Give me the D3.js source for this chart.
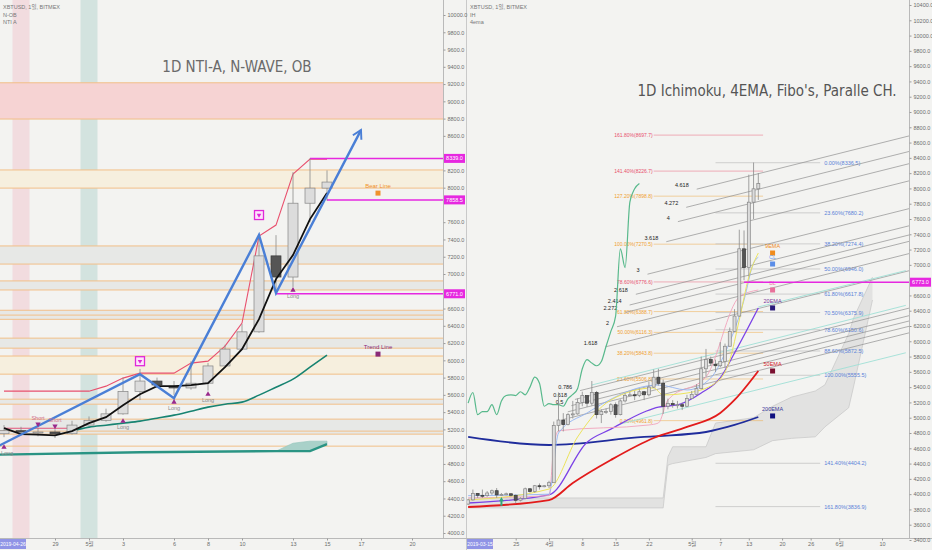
<!DOCTYPE html>
<html>
<head>
<meta charset="utf-8">
<script src="https://cdn.jsdelivr.net/npm/d3@7"></script>
<style>
  body { margin: 0; background: #f3f3f1; }
  svg { display: block; }
  text { font-family: "Liberation Sans", "DejaVu Sans", "Noto Sans CJK KR", sans-serif; }
  .title { font-family: "Liberation Sans Narrow", "DejaVu Sans Condensed", "Liberation Sans", sans-serif; }
</style>
</head>
<body>
<div id="chart"></div>
<script>
// daily XBTUSD candles
const candleDates = [
  '2019-03-15','2019-03-16','2019-03-17','2019-03-18','2019-03-19','2019-03-20','2019-03-21','2019-03-22','2019-03-23','2019-03-24',
  '2019-03-25','2019-03-26','2019-03-27','2019-03-28','2019-03-29','2019-03-30','2019-03-31',
  '2019-04-01','2019-04-02','2019-04-03','2019-04-04','2019-04-05','2019-04-06','2019-04-07','2019-04-08','2019-04-09','2019-04-10',
  '2019-04-11','2019-04-12','2019-04-13','2019-04-14','2019-04-15','2019-04-16','2019-04-17','2019-04-18','2019-04-19','2019-04-20',
  '2019-04-21','2019-04-22','2019-04-23','2019-04-24','2019-04-25','2019-04-26','2019-04-27','2019-04-28','2019-04-29','2019-04-30',
  '2019-05-01','2019-05-02','2019-05-03','2019-05-04','2019-05-05','2019-05-06','2019-05-07','2019-05-08','2019-05-09','2019-05-10',
  '2019-05-11','2019-05-12','2019-05-13','2019-05-14','2019-05-15'
];
const candleOpen = [
  3870,3925,4010,3985,3980,4015,4045,3990,3995,4005,3985,3920,3945,4070,4035,4110,4105,
  4110,4150,4900,4970,4910,5040,5050,5200,5290,5190,5330,5040,5080,5080,5170,5040,5220,5290,5300,5290,
  5340,5300,5400,5530,5450,5150,5185,5170,5170,5150,
  5250,5305,5380,5640,5760,5700,5680,5735,5935,6130,6330,7210,6965,7820,7995
];
const candleHigh = [
  3935,4060,4015,4060,4040,4060,4080,4015,4020,4010,3995,3960,4085,4080,4120,4140,4120,
  4175,4950,5330,5060,5060,5220,5250,5340,5290,5480,5350,5110,5120,5190,5200,5240,5320,5340,5350,5370,
  5350,5470,5630,5640,5500,5250,5230,5220,5200,5300,
  5350,5440,5800,5900,5800,5760,5990,5970,6180,6420,7460,7450,8180,8339,8200
];
const candleLow = [
  3860,3915,3950,3950,3965,3990,3950,3980,3985,3970,3880,3905,3935,4020,4020,4060,4090,
  4080,4150,4820,4820,4900,4990,5040,5150,5140,5160,4990,4930,5050,5040,5000,5030,5200,5280,5230,5270,
  5230,5280,5390,5420,5050,5110,5130,5120,5100,5140,
  5250,5290,5370,5540,5680,5600,5660,5650,5930,6120,6320,6800,6850,7600,7850
];
const candleClose = [
  3925,4010,3985,3980,4015,4045,3990,3995,4005,3985,3920,3945,4070,4035,4110,4105,4110,
  4150,4900,4970,4910,5040,5050,5200,5290,5190,5330,5040,5080,5080,5170,5040,5220,5290,5300,5290,5340,
  5300,5400,5530,5450,5150,5185,5170,5170,5150,5250,
  5305,5380,5640,5760,5715,5680,5735,5935,6130,6330,7210,6965,7820,7995,8065
];

// ---- left panel: NTI-A, N-wave, order blocks ----
const leftDates = candleDates.slice(42); // 2019-04-26 .. 2019-05-15
const ntiBlack = [5214,5145,5140,5130,5180,5272,5342,5481,5608,5701,5701,5713,5736,5921,6130,6477,6941,7219,7636,7937];
const ntiRed   = [5643,5643,5643,5643,5643,5643,5701,5794,5852,5852,5852,5968,5991,6165,6431,7439,7567,8158,8331,8331];
const trendDates  = leftDates.slice(4);
const trendValues = [5180,5226,5249,5272,5296,5330,5365,5411,5458,5492,5516,5597,5689,5782,5921,6060];
const baseDates  = ['2019-04-25','2019-05-04','2019-05-12','2019-05-14','2019-05-15'];
const baseValues = [4905,4936,4948,4948,5029];
const fillDates  = ['2019-05-12','2019-05-13','2019-05-14','2019-05-15'];
const fillUpper  = [4948,5040,5064,5064];
const fillLower  = [4948,4948,4948,5029];
const shortDates = ['2019-04-26','2019-04-30'];
const shortValues = [5214,5214];
const nwaveDates  = ['2019-04-25','2019-05-04','2019-05-06','2019-05-11','2019-05-12','2019-05-17'];
const nwaveValues = [4940,5840,5562,7451,6779,8667];
const zoneTops    = [9215,8205,7325,6920,6580,6257,6050,5550,5319];
const zoneBottoms = [8795,7995,7115,6815,6475,6141,5840,5492,5145];
const zoneKinds   = ['red','beige','gray','gray','gray','gray','beige','gray','gray'];
const zoneLines   = [6524,5180,5006];
const bandDates   = ['2019-04-27','2019-05-01'];
const bandKinds   = ['pink','teal'];
const magentaLeft      = [8339.0,7858.5,6771.0];
const magentaLeftStart = ['2019-05-14','2019-05-15','2019-05-12'];
const signalDates  = ['2019-04-26','2019-04-28','2019-04-29','2019-05-03','2019-05-06','2019-05-08','2019-05-13'];
const signalTypes  = ['Long','Short','Short','Long','Long','Long','Long'];
const signalPrices = [4994,5261,5238,5295,5516,5608,6813];
const boxDates  = ['2019-05-04','2019-05-11'];
const boxPrices = [5990,7683];
const noteNames  = ['Bear Line','Trend Line'];
const notePrices = [7937,6072];
const leftTickDates  = ['2019-04-29','2019-05-01','2019-05-03','2019-05-06','2019-05-08','2019-05-10','2019-05-13','2019-05-15','2019-05-17','2019-05-20'];
const leftTickLabels = ['29','5월','3','6','8','10','13','15','17','20'];

// ---- right panel: Ichimoku, EMAs, Fibonacci, channel ----
const cloudDates = ['2019-03-15','2019-04-25','2019-04-26','2019-04-27','2019-05-04','2019-05-06','2019-05-14','2019-05-18','2019-05-22','2019-05-27','2019-05-29','2019-06-03','2019-06-04','2019-06-08'];
const spanA = [3950,3950,4490,4620,4620,4930,5000,5150,5270,5350,5430,6100,6300,6840];
const spanB = [3820,3820,4380,4400,4480,4530,4580,4700,4730,4750,4880,5130,5400,6540];
const ema9Dates  = ['2019-03-15','2019-04-01','2019-04-07','2019-04-14','2019-04-23','2019-04-25','2019-04-30','2019-05-06','2019-05-09','2019-05-11','2019-05-13','2019-05-15'];
const ema9Values = [3923,4067,4747,5232,5389,5298,5323,5454,5755,6279,6841,7155];
const ema20Dates  = ['2019-03-15','2019-04-01','2019-04-09','2019-04-14','2019-04-21','2019-04-24','2019-04-28','2019-05-03','2019-05-07','2019-05-10','2019-05-15'];
const ema20Values = [3884,3990,4680,4850,5075,5140,5167,5323,5520,5847,6436];
const ema50Dates  = ['2019-03-15','2019-04-01','2019-04-06','2019-04-14','2019-04-23','2019-04-30','2019-05-07','2019-05-10','2019-05-15'];
const ema50Values = [3832,3923,4146,4447,4735,4879,5062,5232,5611];
const ema200Dates  = ['2019-03-15','2019-04-01','2019-04-21','2019-04-24','2019-05-04','2019-05-10','2019-05-15'];
const ema200Values = [4748,4643,4748,4760,4813,4905,5009];
const tenkanDates  = ['2019-03-15','2019-04-01','2019-04-03','2019-04-09','2019-04-24','2019-04-30','2019-05-05','2019-05-08','2019-05-12','2019-05-14','2019-05-15'];
const tenkanValues = [3980,4000,4800,5062,5428,5363,5520,5847,6540,7024,7100];
const kijunDates  = ['2019-03-15','2019-04-01','2019-04-02','2019-04-03','2019-04-22','2019-04-24','2019-04-26','2019-05-04','2019-05-11','2019-05-15'];
const kijunValues = [3950,3980,4617,4830,4905,4931,5232,5533,6579,6671];
const chikouShift = 25;
const fibALevels = [161.8,141.4,127.2,100,78.6,61.8,50,38.2,23.6,0];
const fibAPrices = [8697.7,8226.7,7898.8,7270.5,6776.6,6388.7,6116.3,5843.8,5506.8,4961.8];
const fibBLevels = [0,23.6,38.2,50,61.8,70.5,78.6,88.6,100,141.4,161.8];
const fibBPrices = [8336.5,7680.2,7274.4,6946.0,6617.8,6375.9,6150.6,5872.5,5555.5,4404.2,3836.9];
const channelLevels = [0.236,0.382,0.5,0.618,0.786,1.618,2,2.272,2.414,2.618,3,3.618,4,4.272,4.618];
const cyanStartDates  = ['2019-04-10','2019-04-16','2019-05-15'];
const cyanStartPrices = [5428,4918,6449];
const cyanEndDates    = ['2019-06-15','2019-06-15','2019-06-15'];
const cyanEndPrices   = [6470,5850,6925];
const legendNames  = ['9EMA','CL','BL','20EMA','50EMA','200EMA'];
const legendPrices = [7155,7011,6671,6436,5611,5023];
const rightTickDates  = ['2019-03-25','2019-04-01','2019-04-08','2019-04-15','2019-04-22','2019-05-01','2019-05-07','2019-05-13','2019-05-20','2019-05-26','2019-06-01','2019-06-10'];
const rightTickLabels = ['25','4월','8','15','22','5월','7','13','20','26','6월','10'];

(() => {
  const W = 932, H = 550, bottom = 538;
  const parse = d3.timeParse('%Y-%m-%d');
  const addDays = (d, n) => new Date(d.getTime() + n * 864e5);

  const svg = d3.select('#chart').append('svg').attr('width', W).attr('height', H);
  svg.append('rect').attr('width', W).attr('height', H).attr('fill', '#f3f3f1');

  const defs = svg.append('defs');
  defs.append('clipPath').attr('id', 'clipL').append('rect').attr('x', 0).attr('y', 0).attr('width', 443).attr('height', bottom);
  defs.append('clipPath').attr('id', 'clipR').append('rect').attr('x', 467).attr('y', 0).attr('width', 442).attr('height', bottom);
  defs.append('marker').attr('id', 'arrow').attr('viewBox', '0 0 10 10').attr('refX', 8).attr('refY', 5)
    .attr('markerWidth', 5).attr('markerHeight', 5).attr('orient', 'auto')
    .append('path').attr('d', 'M1,1 L8,5 L1,9').attr('fill', 'none').attr('stroke', '#4a7fd6').attr('stroke-width', 1.6);

  // scales
  const xL = d3.scaleTime().domain([parse('2019-04-26'), parse('2019-05-20')]).range([4, 412]);
  const yL = d3.scaleLinear().domain([4000, 10000]).range([533, 15]);
  const xR = d3.scaleTime().domain([parse('2019-04-01'), parse('2019-06-10')]).range([549, 882]);
  const yR = d3.scaleLinear().domain([3400, 10400]).range([540, 5]);

  const candles = candleDates.map((d, i) => ({
    date: parse(d), o: candleOpen[i], h: candleHigh[i], l: candleLow[i], c: candleClose[i]
  }));

  const lineOf = (x, y, curve) => d3.line().x(d => x(d[0])).y(d => y(d[1])).curve(curve || d3.curveLinear);
  const pairs = (dates, vals) => dates.map((d, i) => [parse(d), vals[i]]);

  const drawCandles = (g, data, x, y, w) => {
    const c = g.selectAll(null).data(data).enter().append('g');
    c.append('line')
      .attr('x1', d => x(d.date)).attr('x2', d => x(d.date))
      .attr('y1', d => y(d.h)).attr('y2', d => y(d.l))
      .attr('stroke', '#8a8a8a').attr('stroke-width', 0.8);
    c.append('rect')
      .attr('x', d => x(d.date) - w / 2)
      .attr('y', d => y(Math.max(d.o, d.c)))
      .attr('width', w)
      .attr('height', d => Math.max(1, Math.abs(y(d.o) - y(d.c))))
      .attr('fill', d => d.c >= d.o ? '#dcdcdc' : '#555')
      .attr('stroke', d => d.c >= d.o ? '#858585' : '#3a3a3a')
      .attr('stroke-width', 0.7);
  };

  // ================= LEFT PANEL =================
  const gL = svg.append('g').attr('clip-path', 'url(#clipL)');

  const bandColor = { pink: 'rgba(240,160,175,0.28)', teal: 'rgba(130,185,175,0.28)' };
  gL.selectAll('.band').data(bandDates).enter().append('rect')
    .attr('x', d => xL(parse(d)) - 8.5).attr('y', 0).attr('width', 17).attr('height', bottom)
    .attr('fill', (d, i) => bandColor[bandKinds[i]]);

  const zoneColor = { red: '#f6d3d3', beige: '#f6efde', gray: '#e7e8e6' };
  zoneTops.forEach((t, i) => {
    const b = zoneBottoms[i];
    gL.append('rect').attr('x', 0).attr('width', 443)
      .attr('y', yL(t)).attr('height', yL(b) - yL(t)).attr('fill', zoneColor[zoneKinds[i]]);
    [t, b].forEach(v => gL.append('line').attr('x1', 0).attr('x2', 443)
      .attr('y1', yL(v)).attr('y2', yL(v)).attr('stroke', '#f2bf88').attr('stroke-width', 1));
  });
  zoneLines.forEach(v => gL.append('line').attr('x1', 0).attr('x2', 443)
    .attr('y1', yL(v)).attr('y2', yL(v)).attr('stroke', '#f2bf88').attr('stroke-width', 1));

  // teal cloud piece
  const fillData = fillDates.map((d, i) => ({ date: parse(d), u: fillUpper[i], l: fillLower[i] }));
  gL.append('path').datum(fillData)
    .attr('d', d3.area().x(d => xL(d.date)).y0(d => yL(d.l)).y1(d => yL(d.u)))
    .attr('fill', '#a9d1c9').attr('stroke', '#8fc2b8').attr('stroke-width', 0.6);

  gL.append('path').datum(pairs(baseDates, baseValues))
    .attr('d', lineOf(xL, yL)).attr('fill', 'none').attr('stroke', '#2a9484').attr('stroke-width', 2.4);
  gL.append('path').datum(pairs(trendDates, trendValues))
    .attr('d', lineOf(xL, yL, d3.curveMonotoneX)).attr('fill', 'none').attr('stroke', '#178371').attr('stroke-width', 1.6);
  gL.append('path').datum(pairs(shortDates, shortValues))
    .attr('d', lineOf(xL, yL)).attr('fill', 'none').attr('stroke', '#e2557a').attr('stroke-width', 1.1);
  gL.append('path').datum(pairs(leftDates, ntiRed))
    .attr('d', lineOf(xL, yL)).attr('fill', 'none').attr('stroke', '#e8506e').attr('stroke-width', 1.1);

  magentaLeft.forEach((v, i) => {
    gL.append('line').attr('x1', xL(parse(magentaLeftStart[i]))).attr('x2', 443)
      .attr('y1', yL(v)).attr('y2', yL(v)).attr('stroke', '#e628e0').attr('stroke-width', 1.5);
  });

  drawCandles(gL, candles.slice(42), xL, yL, 10);

  gL.append('path').datum(pairs(leftDates, ntiBlack))
    .attr('d', lineOf(xL, yL)).attr('fill', 'none').attr('stroke', '#111').attr('stroke-width', 1.8);
  gL.append('path').datum(pairs(nwaveDates, nwaveValues))
    .attr('d', lineOf(xL, yL)).attr('fill', 'none').attr('stroke', '#4a7fd6').attr('stroke-width', 2.4)
    .attr('marker-end', 'url(#arrow)');

  // signals
  signalDates.forEach((d, i) => {
    const x = xL(parse(d)), y = yL(signalPrices[i]);
    const isLong = signalTypes[i] === 'Long';
    gL.append('path').attr('d', d3.symbol(d3.symbolTriangle).size(12))
      .attr('transform', `translate(${x},${y}) rotate(${isLong ? 0 : 180})`).attr('fill', '#9a2a8c');
    gL.append('text').attr('x', Math.max(x, 7)).attr('y', isLong ? y + 8 : y - 4).attr('text-anchor', 'middle')
      .attr('font-size', 5.5).attr('fill', isLong ? '#8a8a8a' : '#d0708e').text(signalTypes[i]);
  });

  boxDates.forEach((d, i) => {
    const x = xL(parse(d)), y = yL(boxPrices[i]);
    gL.append('rect').attr('x', x - 4.5).attr('y', y - 4.5).attr('width', 9).attr('height', 9)
      .attr('fill', '#fde4fb').attr('stroke', '#e028d8').attr('stroke-width', 1.3);
    gL.append('path').attr('d', d3.symbol(d3.symbolTriangle).size(9))
      .attr('transform', `translate(${x},${y}) rotate(180)`).attr('fill', '#e028d8');
  });

  const noteColors = ['#f0922c', '#8a2a78'];
  noteNames.forEach((n, i) => {
    const x = xL(parse('2019-05-18')), y = yL(notePrices[i]);
    gL.append('rect').attr('x', x - 2.5).attr('y', y - 2.5).attr('width', 5).attr('height', 5).attr('fill', noteColors[i]);
    gL.append('text').attr('x', x).attr('y', y - 5).attr('text-anchor', 'middle')
      .attr('font-size', 6).attr('fill', noteColors[i]).text(n);
  });

  svg.append('text').attr('class', 'title').attr('x', 237).attr('y', 72).attr('text-anchor', 'middle')
    .attr('font-size', 15).attr('fill', '#6a6a6a').text('1D NTI-A, N-WAVE, OB');
  ['XBTUSD, 1일, BITMEX', 'N-OB', 'NTI A'].forEach((t, i) =>
    svg.append('text').attr('x', 3).attr('y', 9 + i * 7.5).attr('font-size', 5.5).attr('fill', '#777').text(t));

  // ================= RIGHT PANEL =================
  const gR = svg.append('g').attr('clip-path', 'url(#clipR)');

  const cloud = cloudDates.map((d, i) => ({ date: parse(d), a: spanA[i], b: spanB[i] }));
  gR.append('path').datum(cloud)
    .attr('d', d3.area().x(d => xR(d.date)).y0(d => yR(d.b)).y1(d => yR(d.a)))
    .attr('fill', '#e2e2e1');
  gR.append('path').datum(cloud).attr('d', d3.line().x(d => xR(d.date)).y(d => yR(d.a)))
    .attr('fill', 'none').attr('stroke', '#c6c6c6').attr('stroke-width', 0.7);
  gR.append('path').datum(cloud).attr('d', d3.line().x(d => xR(d.date)).y(d => yR(d.b)))
    .attr('fill', 'none').attr('stroke', '#c6c6c6').attr('stroke-width', 0.7);

  // fib retracement A (left labels)
  const fibAColor = l => [161.8, 141.4, 78.6].includes(l) ? '#e8506e' : '#f0a030';
  const fibAStart = parse('2019-04-23'), fibAEnd = parse('2019-05-16');
  fibALevels.forEach((l, i) => {
    const y = yR(fibAPrices[i]);
    gR.append('line').attr('x1', xR(fibAStart)).attr('x2', xR(fibAEnd)).attr('y1', y).attr('y2', y)
      .attr('stroke', fibAColor(l)).attr('stroke-opacity', 0.55).attr('stroke-width', 0.8);
    gR.append('text').attr('x', xR(fibAStart) - 1).attr('y', y + 2).attr('text-anchor', 'end')
      .attr('font-size', 5).attr('fill', fibAColor(l)).text(`${l.toFixed(2)}%(${fibAPrices[i].toFixed(1)})`);
  });

  // fib retracement B (right labels)
  const fibBStart = parse('2019-05-06'), fibBEnd = parse('2019-05-28');
  fibBLevels.forEach((l, i) => {
    const y = yR(fibBPrices[i]);
    gR.append('line').attr('x1', xR(fibBStart)).attr('x2', xR(fibBEnd)).attr('y1', y).attr('y2', y)
      .attr('stroke', '#c4c4c4').attr('stroke-width', 0.8);
    gR.append('text').attr('x', xR(fibBEnd) + 4).attr('y', y + 2)
      .attr('font-size', 5.5).attr('fill', '#5a82d8').text(`${l.toFixed(2)}%(${fibBPrices[i].toFixed(1)})`);
  });

  // fib channel (parallel lines)
  const apr1 = parse('2019-04-01');
  const chBase = parse('2019-05-03'), chBasePrice = 5290, chSlope = 15.6, chUnit = 588;
  const chPrice = (lvl, d) => chBasePrice + chSlope * (d - chBase) / 864e5 + lvl * chUnit;
  const chEnd = parse('2019-06-20');
  channelLevels.forEach(lvl => {
    const s = addDays(apr1, 1.5 + 6.4 * lvl);
    gR.append('line').attr('x1', xR(s)).attr('y1', yR(chPrice(lvl, s)))
      .attr('x2', xR(chEnd)).attr('y2', yR(chPrice(lvl, chEnd)))
      .attr('stroke', '#8f8f8f').attr('stroke-width', 0.7);
    if (lvl >= 0.5) {
      gR.append('text').attr('x', xR(s) - 8).attr('y', yR(chPrice(lvl, s)) - 2).attr('text-anchor', 'end')
        .attr('font-size', 5.5).attr('fill', '#222').text(String(lvl));
    }
  });

  cyanStartDates.forEach((d, i) => {
    gR.append('line')
      .attr('x1', xR(parse(d))).attr('y1', yR(cyanStartPrices[i]))
      .attr('x2', xR(parse(cyanEndDates[i]))).attr('y2', yR(cyanEndPrices[i]))
      .attr('stroke', '#9fe0d6').attr('stroke-width', 0.9);
  });

  // ichimoku + emas
  const chikou = candles.slice(chikouShift).map((c, i) => [candles[i].date, c.c]);
  const lines = [
    [chikou, '#58b98c', 1.2],
    [pairs(ema200Dates, ema200Values), '#1f2c9c', 1.8],
    [pairs(ema50Dates, ema50Values), '#e21b1b', 1.8],
    [pairs(ema20Dates, ema20Values), '#7b42e6', 1.3],
    [pairs(kijunDates, kijunValues), '#f2a3bb', 0.9],
    [pairs(tenkanDates, tenkanValues), '#92b2f2', 0.9],
    [pairs(ema9Dates, ema9Values), '#ece35c', 1.0]
  ];
  lines.forEach(([data, color, w]) => gR.append('path').datum(data)
    .attr('d', lineOf(xR, yR, d3.curveMonotoneX)).attr('fill', 'none').attr('stroke', color).attr('stroke-width', w));

  drawCandles(gR, candles, xR, yR, 3);

  // small green arrow
  const ax = xR(parse('2019-03-22')), ay = yR(3900);
  gR.append('path').attr('d', d3.symbol(d3.symbolTriangle).size(10)).attr('transform', `translate(${ax},${ay - 2})`).attr('fill', '#33a97c');
  gR.append('rect').attr('x', ax - 1).attr('y', ay - 1).attr('width', 2).attr('height', 5).attr('fill', '#33a97c');

  // legend labels
  const legendText = ['#f08c1c', '#6c9ef0', '#f07ca8', '#7a3a9a', '#d0202a', '#3a3a9a'];
  const legendBox  = ['#f08c1c', '#5b8ee8', '#e8709a', '#2a1a7a', '#7a1030', '#101080'];
  legendNames.forEach((n, i) => {
    const x = xR(parse('2019-05-18')), y = yR(legendPrices[i]);
    gR.append('rect').attr('x', x - 2.5).attr('y', y - 2.5).attr('width', 5).attr('height', 5).attr('fill', legendBox[i]);
    gR.append('text').attr('x', x).attr('y', y - 5).attr('text-anchor', 'middle')
      .attr('font-size', 5.5).attr('fill', legendText[i]).text(n);
  });

  gR.append('line').attr('x1', xR(parse('2019-05-12'))).attr('x2', 909)
    .attr('y1', yR(6773)).attr('y2', yR(6773)).attr('stroke', '#e628e0').attr('stroke-width', 1.5);

  svg.append('text').attr('class', 'title').attr('x', 767).attr('y', 96).attr('text-anchor', 'middle')
    .attr('font-size', 15).attr('fill', '#555').text("1D Ichimoku, 4EMA, Fibo's, Paralle CH.");
  ['XBTUSD, 1일, BITMEX', 'IH', '4ema'].forEach((t, i) =>
    svg.append('text').attr('x', 470).attr('y', 9 + i * 7.5).attr('font-size', 5.5).attr('fill', '#777').text(t));

  // ================= AXES =================
  svg.append('line').attr('x1', 443.5).attr('x2', 443.5).attr('y1', 0).attr('y2', bottom).attr('stroke', '#b9b9b9');
  svg.append('line').attr('x1', 466.5).attr('x2', 466.5).attr('y1', 0).attr('y2', H).attr('stroke', '#c9c9c9');
  svg.append('line').attr('x1', 909.5).attr('x2', 909.5).attr('y1', 0).attr('y2', bottom).attr('stroke', '#b9b9b9');
  svg.append('line').attr('x1', 0).attr('x2', W).attr('y1', bottom + 0.5).attr('y2', bottom + 0.5).attr('stroke', '#b9b9b9');

  const styleAxis = g => {
    g.select('.domain').remove();
    g.selectAll('text').attr('font-size', 5.5).attr('fill', '#6d6d6d');
    g.selectAll('line').attr('stroke', '#9a9a9a');
  };
  const near = (v, y, marks) => marks.some(m => Math.abs(y(v) - y(m)) < 7);

  const ticksL = d3.range(4000, 10001, 200).filter(v => !near(v, yL, magentaLeft));
  svg.append('g').attr('transform', 'translate(443.5,0)')
    .call(d3.axisRight(yL).tickValues(ticksL).tickFormat(d3.format('.1f')).tickSize(2).tickPadding(2))
    .call(styleAxis);
  const ticksR = d3.range(3400, 10401, 200).filter(v => !near(v, yR, [6773]));
  svg.append('g').attr('transform', 'translate(909.5,0)')
    .call(d3.axisRight(yR).tickValues(ticksR).tickFormat(d3.format('.1f')).tickSize(2).tickPadding(2))
    .call(styleAxis);

  svg.append('g').attr('transform', `translate(0,${bottom + 0.5})`)
    .call(d3.axisBottom(xL).tickValues(leftTickDates.map(parse)).tickFormat((d, i) => leftTickLabels[i]).tickSize(2).tickPadding(2))
    .call(styleAxis);
  svg.append('g').attr('transform', `translate(0,${bottom + 0.5})`)
    .call(d3.axisBottom(xR).tickValues(rightTickDates.map(parse)).tickFormat((d, i) => rightTickLabels[i]).tickSize(2).tickPadding(2))
    .call(styleAxis);

  // price tags on the axes
  const tag = (x, y, v) => {
    svg.append('rect').attr('x', x).attr('y', y - 4.5).attr('width', 21).attr('height', 9).attr('fill', '#e628e0');
    svg.append('text').attr('x', x + 10.5).attr('y', y + 2).attr('text-anchor', 'middle')
      .attr('font-size', 5.5).attr('fill', '#fff').text(d3.format('.1f')(v));
  };
  magentaLeft.forEach(v => tag(444, yL(v), v));
  tag(910, yR(6773), 6773.0);

  // date tags on the time axes
  const dateTag = (x, t) => {
    svg.append('rect').attr('x', x).attr('y', bottom + 1).attr('width', 26).attr('height', 10).attr('fill', '#9094e6');
    svg.append('text').attr('x', x + 13).attr('y', bottom + 8).attr('text-anchor', 'middle')
      .attr('font-size', 5).attr('fill', '#fff').text(t);
  };
  dateTag(0, '2019-04-26');
  dateTag(467, '2019-03-15');
})();
</script>
</body>
</html>
